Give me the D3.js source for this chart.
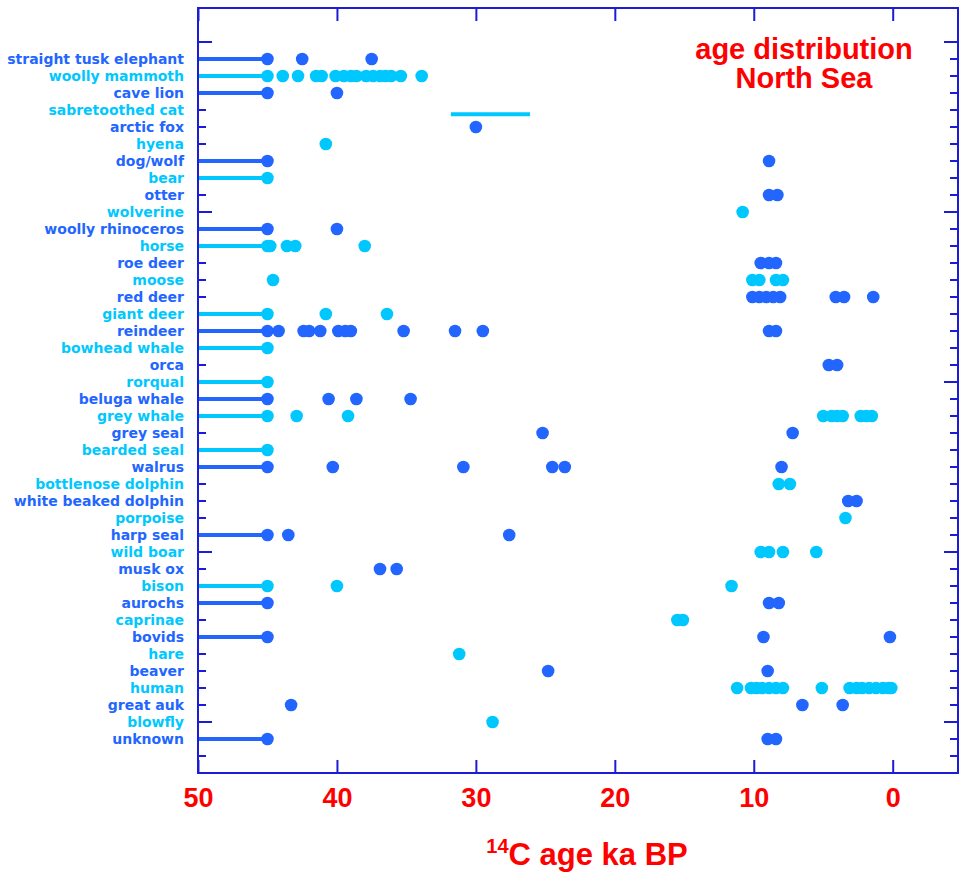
<!DOCTYPE html>
<html>
<head>
<meta charset="utf-8">
<script src="https://cdn.jsdelivr.net/npm/d3@7"></script>
<style>
  body { margin: 0; background: #fff; }
  svg text { font-family: "Liberation Sans", Arial, Helvetica, sans-serif; font-weight: bold; }
</style>
</head>
<body>
<div id="chart"></div>
<script>
// species, top to bottom
var species = ["straight tusk elephant", "woolly mammoth", "cave lion", "sabretoothed cat",
    "arctic fox", "hyena", "dog/wolf", "bear", "otter", "wolverine", "woolly rhinoceros",
    "horse", "roe deer", "moose", "red deer", "giant deer", "reindeer", "bowhead whale",
    "orca", "rorqual", "beluga whale", "grey whale", "grey seal", "bearded seal", "walrus",
    "bottlenose dolphin", "white beaked dolphin", "porpoise", "harp seal", "wild boar",
    "musk ox", "bison", "aurochs", "caprinae", "bovids", "hare", "beaver", "human",
    "great auk", "blowfly", "unknown"];

// 14C ages (ka BP) per species, same order; 45 = beyond range (>45 ka)
var ages = [
    [45, 42.5, 37.5],
    [45, 43.9, 42.8, 41.5, 41.1, 40.1, 39.5, 39.0, 38.6, 37.9, 37.4, 36.9, 36.5, 36.1, 35.4, 33.9],
    [45, 40.0],
    [],
    [30.0],
    [40.8],
    [45, 8.9],
    [45],
    [8.9, 8.3],
    [10.8],
    [45, 40.0],
    [45, 44.8, 43.6, 43.0, 38.0],
    [9.5, 8.9, 8.4],
    [44.6, 10.1, 9.6, 8.4, 7.9],
    [10.1, 9.6, 9.1, 8.6, 8.1, 4.1, 3.5, 1.4],
    [45, 40.8, 36.4],
    [45, 44.2, 42.4, 42.0, 41.2, 39.9, 39.4, 39.0, 35.2, 31.5, 29.5, 8.9, 8.4],
    [45],
    [4.6, 4.0],
    [45],
    [45, 40.6, 38.6, 34.7],
    [45, 42.9, 39.2, 5.0, 4.4, 4.0, 3.6, 2.3, 1.9, 1.5],
    [25.2, 7.2],
    [45],
    [45, 40.3, 30.9, 24.5, 23.6, 8.0],
    [8.2, 7.4],
    [3.2, 2.6],
    [3.4],
    [45, 43.5, 27.6],
    [9.5, 8.9, 7.9, 5.5],
    [36.9, 35.7],
    [45, 40.0, 11.6],
    [45, 8.9, 8.2],
    [15.5, 15.1],
    [45, 9.3, 0.2],
    [31.2],
    [24.8, 9.0],
    [11.2, 10.2, 9.8, 9.4, 8.9, 8.4, 7.9, 5.1, 3.1, 2.6, 2.2, 1.7, 1.2, 0.7, 0.3, 0.1],
    [43.3, 6.5, 3.6],
    [28.8],
    [45, 9.0, 8.4]
];

// age ranges shown as bars
var rangeSpecies = ["sabretoothed cat"];
var rangeAges = [[31.8, 26.1]];

var infiniteAge = 45;
var xTicks = [50, 40, 30, 20, 10, 0];

var width = 960, height = 875;
var margin = {top: 8, right: 2, bottom: 102, left: 198};

var dark = "#2266ff", light = "#00c8ff", frame = "#1c1cd6", red = "#ff0000";

var svg = d3.select("#chart").append("svg")
    .attr("width", width)
    .attr("height", height);

var x = d3.scaleLinear().domain([50, -4.7]).range([margin.left, width - margin.right]);
var y = d3.scaleLinear().domain([-3, 42]).range([margin.top, height - margin.bottom]);

function colour(i) { return i % 2 === 0 ? dark : light; }

// frame
svg.append("rect")
    .attr("x", margin.left).attr("y", margin.top)
    .attr("width", width - margin.right - margin.left)
    .attr("height", height - margin.bottom - margin.top)
    .style("fill", "none").style("stroke", frame).style("stroke-width", 2);

// row ticks, left and right
var rows = d3.range(-1, 42);
function rowTickLen(r) { return (r + 1) % 10 === 0 ? 14 : 8; }

svg.selectAll(".ltick").data(rows).enter().append("line")
    .attr("x1", margin.left).attr("x2", function (r) { return margin.left + rowTickLen(r); })
    .attr("y1", function (r) { return y(r); }).attr("y2", function (r) { return y(r); })
    .style("stroke", frame).style("stroke-width", 2);

svg.selectAll(".rtick").data(rows).enter().append("line")
    .attr("x1", width - margin.right).attr("x2", function (r) { return width - margin.right - rowTickLen(r); })
    .attr("y1", function (r) { return y(r); }).attr("y2", function (r) { return y(r); })
    .style("stroke", frame).style("stroke-width", 2);

// x axes
var bottomAxis = svg.append("g")
    .attr("transform", "translate(0," + (height - margin.bottom) + ")")
    .call(d3.axisBottom(x).tickValues(xTicks).tickSize(-13).tickPadding(15).tickFormat(d3.format("d")));
var topAxis = svg.append("g")
    .attr("transform", "translate(0," + margin.top + ")")
    .call(d3.axisTop(x).tickValues(xTicks).tickSize(-13).tickFormat(""));

[bottomAxis, topAxis].forEach(function (g) {
    g.select(".domain").remove();
    g.selectAll(".tick line").style("stroke", frame).style("stroke-width", 2);
});
bottomAxis.selectAll(".tick text")
    .style("fill", red).style("font-size", "27px")
    .style("font-family", "'Liberation Sans', Arial, sans-serif").style("font-weight", "bold");

// lines for beyond-range ages
svg.selectAll(".inf").data(species.filter(function (s, i) { return ages[i].indexOf(infiniteAge) >= 0; }))
    .enter().append("line")
    .attr("x1", margin.left + 1).attr("x2", x(infiniteAge))
    .attr("y1", function (s) { return y(species.indexOf(s)); })
    .attr("y2", function (s) { return y(species.indexOf(s)); })
    .style("stroke", function (s) { return colour(species.indexOf(s)); })
    .style("stroke-width", 4);

// range bars
svg.selectAll(".range").data(rangeSpecies).enter().append("line")
    .attr("x1", function (s, j) { return x(rangeAges[j][0]); })
    .attr("x2", function (s, j) { return x(rangeAges[j][1]); })
    .attr("y1", function (s) { return y(species.indexOf(s) + 0.25); })
    .attr("y2", function (s) { return y(species.indexOf(s) + 0.25); })
    .style("stroke", function (s) { return colour(species.indexOf(s)); })
    .style("stroke-width", 4);

// dots
var points = [];
ages.forEach(function (list, i) {
    list.forEach(function (a) { points.push({row: i, age: a}); });
});

svg.selectAll(".dot").data(points).enter().append("circle")
    .attr("cx", function (d) { return x(d.age); })
    .attr("cy", function (d) { return y(d.row); })
    .attr("r", 6.3)
    .style("fill", function (d) { return colour(d.row); });

// species labels
svg.selectAll(".lab").data(species).enter().append("text")
    .attr("x", 184)
    .attr("y", function (s, i) { return y(i); })
    .attr("dy", "0.37em")
    .attr("text-anchor", "end")
    .style("font-family", "'DejaVu Sans', sans-serif")
    .style("font-size", "14px")
    .style("fill", function (s, i) { return colour(i); })
    .text(function (s) { return s; });

// title
var title = svg.append("text")
    .attr("x", 804).attr("y", 59)
    .attr("text-anchor", "middle")
    .style("fill", red).style("font-size", "29px");
title.append("tspan").attr("x", 804).text("age distribution");
title.append("tspan").attr("x", 804).attr("dy", 29).text("North Sea");

// axis title
var xt = svg.append("text")
    .attr("x", 587).attr("y", 865)
    .attr("text-anchor", "middle")
    .style("fill", red).style("font-size", "31px");
xt.append("tspan").attr("dy", -12).style("font-size", "20px").text("14");
xt.append("tspan").attr("dy", 12).text("C age ka BP");
</script>
</body>
</html>
